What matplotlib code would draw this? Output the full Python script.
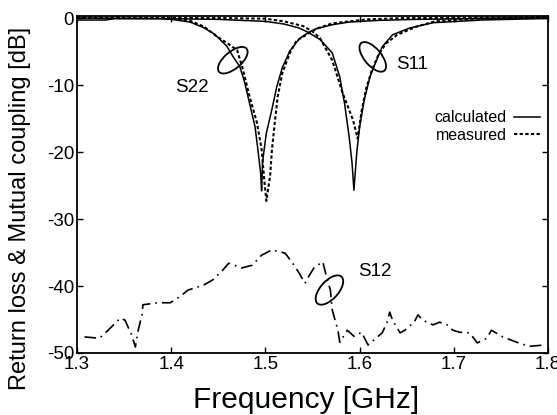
import matplotlib
matplotlib.use("Agg")
import matplotlib.pyplot as plt
from matplotlib.patches import Ellipse
from matplotlib.transforms import ScaledTranslation

plt.rcParams["font.family"] = ["Liberation Sans", "DejaVu Sans"]

# S22 calculated (solid)
s22_calc_f = [1.30, 1.33, 1.34, 1.39, 1.40, 1.42, 1.434, 1.446, 1.459, 1.465, 1.473,
              1.478, 1.483, 1.489, 1.492, 1.495, 1.496, 1.497, 1.501, 1.507, 1.512,
              1.518, 1.526, 1.536, 1.545, 1.554, 1.571, 1.589, 1.62, 1.66, 1.72, 1.80]
s22_calc_db = [-0.3, -0.3, -0.1, -0.1, -0.2, -0.6, -1.4, -2.4, -4.2, -5.6, -7.3,
               -9.6, -12.6, -16.2, -19.6, -23.2, -25.8, -21.5, -17.2, -13.6, -10.3,
               -7.4, -4.9, -3.1, -2.2, -1.6, -1.0, -0.6, -0.35, -0.2, -0.1, -0.05]

# S22 measured (dotted)
s22_meas_f = [1.30, 1.40, 1.42, 1.435, 1.448, 1.460, 1.470, 1.476, 1.483, 1.491,
              1.496, 1.499, 1.501, 1.505, 1.507, 1.510, 1.513, 1.518, 1.526, 1.533,
              1.540, 1.554, 1.571, 1.607, 1.65, 1.80]
s22_meas_db = [0.1, 0.0, -0.4, -1.3, -2.7, -3.8, -4.8, -7.6, -11.6, -15.6,
               -19.6, -24.4, -27.3, -23.6, -19.6, -15.6, -11.8, -8.2, -5.2, -3.4,
               -2.8, -1.6, -0.8, -0.2, 0.0, 0.1]

# S11 calculated (solid)
s11_calc_f = [1.30, 1.40, 1.45, 1.50, 1.52, 1.536, 1.545, 1.558, 1.571, 1.579, 1.584,
              1.589, 1.592, 1.594, 1.597, 1.600, 1.605, 1.611, 1.618, 1.624, 1.635,
              1.653, 1.678, 1.73, 1.80]
s11_calc_db = [0.0, -0.1, -0.2, -0.5, -0.9, -1.5, -2.1, -3.2, -5.2, -8.8, -12.7,
               -17.8, -21.6, -25.7, -20.1, -16.3, -12.2, -8.8, -6.3, -4.3, -2.5,
               -1.5, -0.7, -0.3, -0.05]

# S11 measured (dotted)
s11_meas_f = [1.30, 1.45, 1.50, 1.52, 1.54, 1.55, 1.558, 1.571, 1.582, 1.593, 1.598,
              1.602, 1.607, 1.613, 1.62, 1.628, 1.64, 1.66, 1.68, 1.72, 1.80]
s11_meas_db = [0.0, 0.0, -0.1, -0.5, -1.2, -2.0, -3.0, -6.3, -11.2, -15.2, -18.0,
               -14.0, -10.5, -7.8, -5.5, -3.8, -2.5, -1.3, -0.5, -0.1, 0.1]

# S12 mutual coupling (dash-dot)
s12_f = [1.308, 1.324, 1.333, 1.346, 1.351, 1.358, 1.362, 1.365, 1.369, 1.370,
         1.386, 1.399, 1.409, 1.418, 1.434, 1.444, 1.455, 1.461, 1.475, 1.486,
         1.496, 1.507, 1.521, 1.529, 1.536, 1.542, 1.545, 1.552, 1.561, 1.565,
         1.569, 1.571, 1.574, 1.577, 1.579, 1.587, 1.594, 1.602, 1.609, 1.619,
         1.624, 1.629, 1.632, 1.635, 1.643, 1.648, 1.658, 1.662, 1.667, 1.678,
         1.685, 1.693, 1.699, 1.706, 1.717, 1.725, 1.735, 1.740, 1.752, 1.767,
         1.780, 1.797]
s12_db = [-47.6, -47.8, -46.6, -44.8, -45.1, -47.3, -49.1, -46.6, -44.3, -42.8,
          -42.5, -42.5, -41.6, -40.6, -39.9, -39.1, -37.6, -36.6, -37.3, -36.9,
          -35.4, -34.6, -35.1, -36.6, -38.1, -39.6, -38.8, -37.2, -36.4, -38.7,
          -40.6, -43.6, -45.1, -46.6, -48.4, -46.6, -47.5, -46.9, -48.8, -47.6,
          -47.0, -45.5, -43.9, -45.1, -47.0, -46.6, -45.4, -44.3, -45.1, -45.8,
          -45.4, -45.8, -46.6, -46.9, -47.0, -48.5, -47.8, -46.6, -47.6, -48.4,
          -49.0, -48.8]

x_ticks = [1.3, 1.4, 1.5, 1.6, 1.7, 1.8]
y_ticks = [0, -10, -20, -30, -40, -50]

fig = plt.figure(figsize=(5.57, 4.15), dpi=100)
ax = fig.add_axes([0.1382, 0.1494, 0.8456, 0.812])

dot = (0, (1.6, 1.1))
ax.plot(s22_calc_f, s22_calc_db, color="black", lw=1.1, label="calculated")
ax.plot(s22_meas_f, s22_meas_db, color="black", lw=1.5, linestyle=dot, label="measured")
ax.plot(s11_calc_f, s11_calc_db, color="black", lw=1.1)
ax.plot(s11_meas_f, s11_meas_db, color="black", lw=1.5, linestyle=dot)
ax.plot(s12_f, s12_db, color="black", lw=1.2, linestyle=(0, (7, 3, 1, 3)))

ax.set_xlim(1.3, 1.8)
ax.set_ylim(-50, 0.3)
ax.set_xticks(x_ticks)
ax.set_xticklabels([f"{v:.1f}" for v in x_ticks])
ax.set_yticks(y_ticks)
ax.set_yticklabels([str(v) for v in y_ticks])
ax.tick_params(direction="in", length=4, width=1, top=True, right=True,
               labelsize=13.5, pad=2)
for sp in ax.spines.values():
    sp.set_linewidth(1.3)

# ellipses drawn in inches, centred on a data point
for (cf, cdb, w, h, ang) in [(1.4654, -6.3, 0.36, 0.17, 40),
                             (1.614, -5.8, 0.36, 0.17, -50),
                             (1.568, -40.6, 0.36, 0.18, 48)]:
    tr = fig.dpi_scale_trans + ScaledTranslation(cf, cdb, ax.transData)
    ax.add_patch(Ellipse((0, 0), w, h, angle=ang, fill=False, lw=1.3,
                         edgecolor="black", transform=tr, clip_on=False))

ax.text(1.422, -10.4, "S22", fontsize=13.5, ha="center", va="center")
ax.text(1.656, -7.0, "S11", fontsize=13.5, ha="center", va="center")
ax.text(1.616, -37.9, "S12", fontsize=13.5, ha="center", va="center")

ax.legend(loc="center right", bbox_to_anchor=(0.983, 0.672), frameon=False,
          markerfirst=False, fontsize=11.5, handlelength=1.6, handletextpad=0.5,
          labelspacing=0.15, borderpad=0, borderaxespad=0)

fig.text(20 / 557, 1 - 208 / 415, "Return loss & Mutual coupling [dB]",
         rotation=90, ha="center", va="center", fontsize=17)
fig.text(306 / 557, 1 - 400 / 415, "Frequency [GHz]", ha="center", va="center",
         fontsize=21.5)

fig.savefig("out.png", dpi=100, facecolor="white")
